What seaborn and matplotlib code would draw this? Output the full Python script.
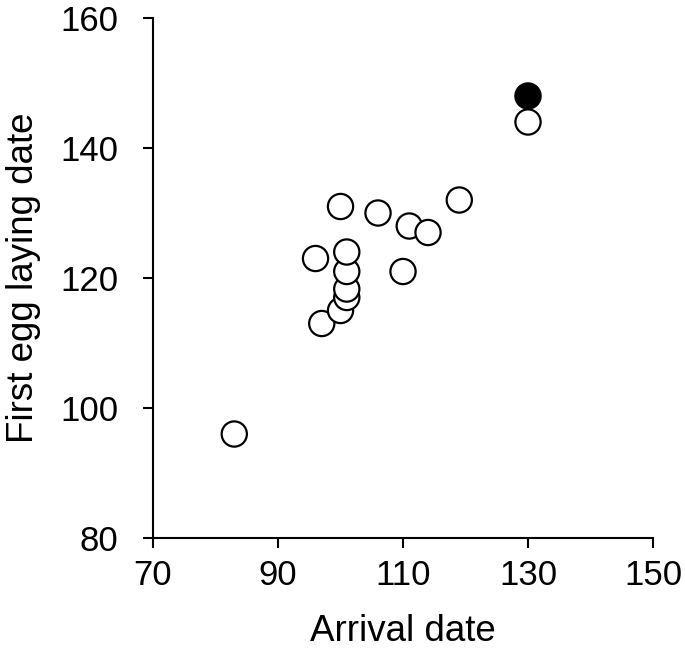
import pandas as pd
import matplotlib.pyplot as plt
import seaborn as sns

# ── Data ────────────────────────────────────────────────────
arrival = [83, 97, 96, 100, 100, 101, 101, 101, 101, 106, 110, 111, 114, 119, 130, 130]
first_egg = [96, 113, 123, 131, 115, 117, 118.3, 121, 124, 130, 121, 128, 127, 132, 144, 148]
group = ['open'] * 15 + ['filled']

df = pd.DataFrame({'Arrival date': arrival, 'First egg laying date': first_egg, 'group': group})

sns.set_style('ticks')
plt.rcParams['font.family'] = ['Liberation Sans', 'DejaVu Sans']
plt.rcParams['text.color'] = 'black'
plt.rcParams['axes.labelcolor'] = 'black'
plt.rcParams['xtick.color'] = 'black'
plt.rcParams['ytick.color'] = 'black'

fig = plt.figure(figsize=(6.85, 6.57), dpi=100)
ax = fig.add_axes([0.2234, 0.1811, 0.7299, 0.7915])

sns.scatterplot(data=df, x='Arrival date', y='First egg laying date', hue='group',
                palette={'open': 'white', 'filled': 'black'}, edgecolor='black',
                linewidth=1.6, s=330, legend=False, ax=ax, zorder=3, clip_on=False)

ax.set_xlim(70, 150)
ax.set_ylim(80, 160)
ax.set_xticks([70, 90, 110, 130, 150])
ax.set_yticks([80, 100, 120, 140, 160])
ax.set_xlabel('Arrival date', fontsize=26.5, labelpad=16)
ax.set_ylabel('First egg laying date', fontsize=26.5, labelpad=14)
ax.tick_params(labelsize=25, length=7, width=1.5, direction='out')
ax.tick_params(axis='y', pad=18)
ax.tick_params(axis='x', pad=8)
for side in ['left', 'bottom']:
    ax.spines[side].set_linewidth(1.5)
    ax.spines[side].set_color('black')
sns.despine(ax=ax)

plt.savefig('out.png', dpi=100)
